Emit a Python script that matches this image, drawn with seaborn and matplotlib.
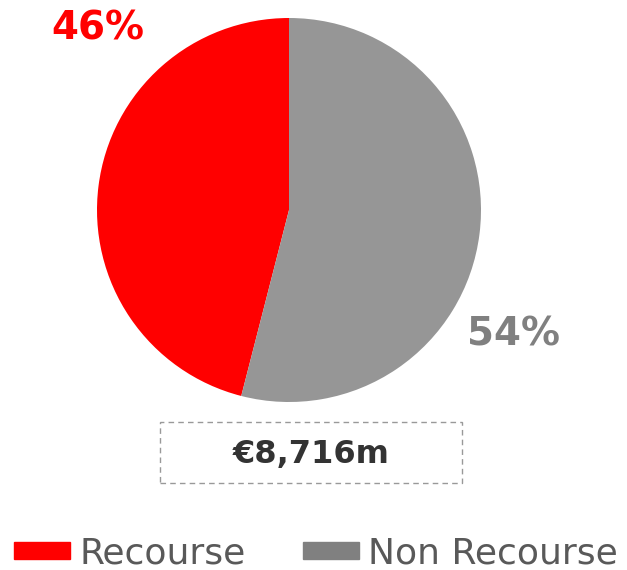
import matplotlib
matplotlib.use("Agg")
import matplotlib.pyplot as plt
import matplotlib.patches as mpatches
import seaborn as sns

# data
labels = ["Recourse", "Non Recourse"]
shares = [46, 54]
pie_colors = ["#ff0000", "#969696"]
legend_colors = ["#ff0000", "#808080"]
label_colors = ["#ff0000", "#808080"]
total_text = "€8,716m"

sns.set_style("white")
plt.rcParams["font.family"] = ["DejaVu Sans"]

fig = plt.figure(figsize=(6.27, 5.70), dpi=100)
ax = fig.add_axes([97 / 627, 168 / 570, 384 / 627, 384 / 570])
ax.pie(shares, colors=pie_colors, startangle=90, counterclock=True,
       radius=1.0, wedgeprops={"linewidth": 0})
ax.set_xlim(-1, 1)
ax.set_ylim(-1, 1)
ax.set_aspect("equal")
ax.axis("off")

# percentage labels
fig.text(98 / 627, 1 - 29 / 570, f"{shares[0]}%", color=label_colors[0],
         fontsize=28, fontweight="bold", ha="center", va="center")
fig.text(513 / 627, 1 - 334 / 570, f"{shares[1]}%", color=label_colors[1],
         fontsize=28, fontweight="bold", ha="center", va="center")

# dashed total box
box = mpatches.Rectangle((160 / 627, 1 - 483 / 570), 302 / 627, 61 / 570,
                         transform=fig.transFigure, fill=False,
                         edgecolor="#999999", linestyle=(0, (4, 3)), linewidth=1)
fig.patches.append(box)
fig.text(311 / 627, 1 - 454 / 570, total_text, color="#333333",
         fontsize=23, fontweight="bold", ha="center", va="center")

handles = [mpatches.Patch(color=c, label=l) for c, l in zip(legend_colors, labels)]
leg = fig.legend(handles=handles, loc="lower left", bbox_to_anchor=(0.0, -0.026),
                 ncol=2, frameon=False, fontsize=26, handlelength=1.55,
                 handleheight=0.35, handletextpad=0.25, columnspacing=1.6,
                 borderaxespad=0)
for t in leg.get_texts():
    t.set_color("#595959")

fig.savefig("out.png", dpi=100)
